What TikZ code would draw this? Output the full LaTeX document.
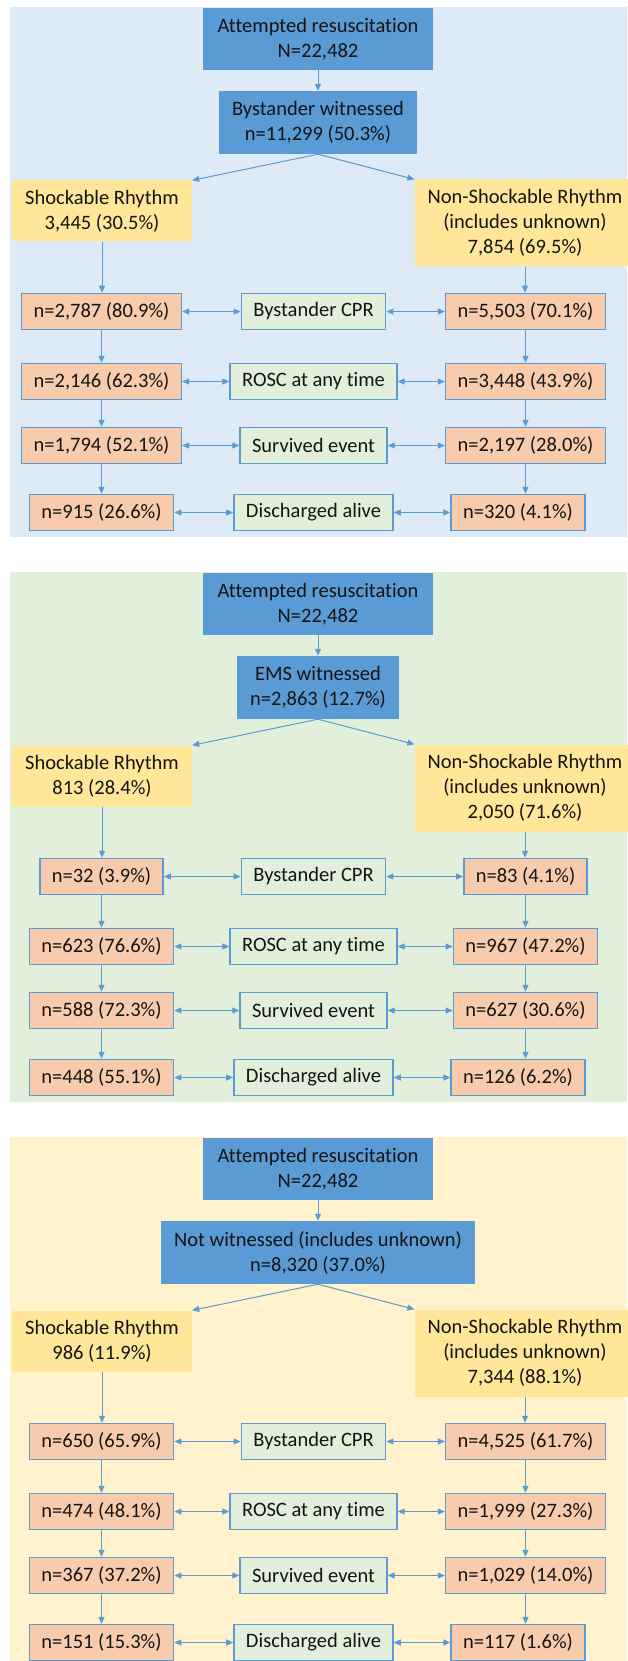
\documentclass[tikz,border=0pt]{standalone}
\usepackage{fontspec}
\setmainfont[Ligatures=NoCommon]{Carlito}
\usetikzlibrary{arrows.meta}
\definecolor{flowBlue}{RGB}{91,155,213}
\definecolor{bgBlue}{RGB}{222,235,247}
\definecolor{bgGreen}{RGB}{226,239,218}
\definecolor{bgYellow}{RGB}{255,242,204}
\definecolor{rhythmGold}{RGB}{255,230,153}
\definecolor{countPeach}{RGB}{248,203,173}
\definecolor{stageGreen}{RGB}{226,239,218}
\definecolor{flowInk}{RGB}{20,20,20}
\tikzset{
  every node/.style={font=\fontsize{20.5}{25}\selectfont\color{flowInk},align=center},
  topbox/.style={fill=flowBlue,inner xsep=13pt,minimum height=62pt},
  rhythmbox/.style={fill=rhythmGold,inner xsep=13pt},
  countbox/.style={fill=countPeach,draw=flowBlue,line width=1.5pt,inner xsep=12pt,minimum height=36pt},
  stagebox/.style={fill=stageGreen,draw=flowBlue,line width=1.5pt,inner xsep=12pt,minimum height=36pt},
  flow/.style={draw=flowBlue,line width=1pt,-{Triangle[length=7pt,width=6pt]}},
  pair/.style={draw=flowBlue,line width=1pt,{Triangle[length=7pt,width=6pt]}-{Triangle[length=7pt,width=6pt]}}
}
\newcommand{\outcomepanel}[7]{%
  \begin{scope}[shift={(0,#2)}]
    \fill[#3] (10,0) rectangle (627,530);
    \node[topbox,minimum width=230pt] (#1top) at (318,32) {Attempted resuscitation\\N=22,482};
    \node[topbox,minimum height=63pt] (#1wit) at (318,115.5) {#4};
    \node[rhythmbox,minimum width=180pt,minimum height=61pt] (#1shock) at (102,204) {Shockable Rhythm\\#5};
    \node[rhythmbox,minimum height=87pt] (#1non) at (525,216) {Non-Shockable Rhythm\\(includes unknown)\\#6};
    \foreach \mlab/\yy [count=\i] in {Bystander CPR/304.5,ROSC at any time/374.5,Survived event/438.5,Discharged alive/505.5}
      \node[stagebox] (#1m\i) at (313.5,\yy) {\mlab};
    \foreach \lv/\rv [count=\i] in {#7} {
      \pgfmathsetmacro\rx{\i==4 ? 518 : 525.5}
      \node[countbox] (#1l\i) at (101.5,0 |- #1m\i) {\lv};
      \node[countbox] (#1r\i) at (\rx,0 |- #1m\i) {\rv};
      \draw[pair] (#1l\i) -- (#1m\i);
      \draw[pair] (#1m\i) -- (#1r\i);
    }
    \draw[flow] (#1top) -- (#1wit);
    \draw[flow] (#1wit.south) -- (#1shock.north east);
    \draw[flow] (#1wit.south) -- (#1non.north west);
    \draw[flow] (#1shock.south) -- (#1shock.south |- #1l1.north);
    \draw[flow] (#1non.south) -- (#1non.south |- #1r1.north);
    \foreach \i [evaluate=\i as \j using int(\i+1)] in {1,2,3} {
      \draw[flow] (#1l\i.south) -- (#1l\i.south |- #1l\j.north);
      \draw[flow] (#1r\i.south) -- (#1r\i.south |- #1r\j.north);
    }
  \end{scope}}

\begin{document}
\begin{tikzpicture}[x=1pt,y=-1pt]
  \fill[white] (0,0) rectangle (627,1661);
  \useasboundingbox (0,0) rectangle (627,1661);
  \outcomepanel{a}{7}{bgBlue}{Bystander witnessed\\n=11,299 (50.3\%)}{3,445 (30.5\%)}{7,854 (69.5\%)}
    {{n=2,787 (80.9\%)}/{n=5,503 (70.1\%)},{n=2,146 (62.3\%)}/{n=3,448 (43.9\%)},{n=1,794 (52.1\%)}/{n=2,197 (28.0\%)},{n=915 (26.6\%)}/{n=320 (4.1\%)}}
  \outcomepanel{b}{572}{bgGreen}{EMS witnessed\\n=2,863 (12.7\%)}{813 (28.4\%)}{2,050 (71.6\%)}
    {{n=32 (3.9\%)}/{n=83 (4.1\%)},{n=623 (76.6\%)}/{n=967 (47.2\%)},{n=588 (72.3\%)}/{n=627 (30.6\%)},{n=448 (55.1\%)}/{n=126 (6.2\%)}}
  \outcomepanel{c}{1137}{bgYellow}{Not witnessed (includes unknown)\\n=8,320 (37.0\%)}{986 (11.9\%)}{7,344 (88.1\%)}
    {{n=650 (65.9\%)}/{n=4,525 (61.7\%)},{n=474 (48.1\%)}/{n=1,999 (27.3\%)},{n=367 (37.2\%)}/{n=1,029 (14.0\%)},{n=151 (15.3\%)}/{n=117 (1.6\%)}}
\end{tikzpicture}
\end{document}
